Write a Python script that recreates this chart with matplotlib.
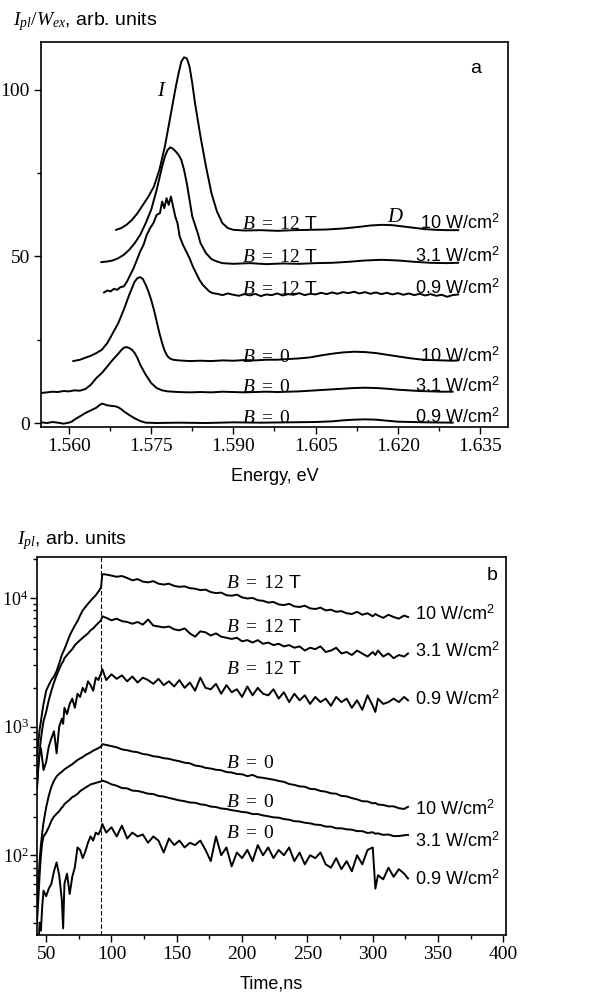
import matplotlib

matplotlib.use("Agg")
import matplotlib.pyplot as plt
import numpy as np
from matplotlib.ticker import FormatStrFormatter, LogLocator, MultipleLocator, NullFormatter

FIG_W, FIG_H = 590, 1001

plt.rcParams["font.family"] = ["Liberation Sans", "DejaVu Sans"]
plt.rcParams["mathtext.fontset"] = "custom"
plt.rcParams["mathtext.rm"] = "Liberation Serif"
plt.rcParams["mathtext.it"] = "Liberation Serif:italic"
plt.rcParams["mathtext.sf"] = "Liberation Sans"

# ---- panel a: PL spectra, I_pl / W_ex vs energy ----
energy_12t_10 = [1.5686, 1.5695, 1.5705, 1.5715, 1.5725, 1.5735, 1.5745, 1.5755, 1.5765, 1.5775,
                 1.5785, 1.5795, 1.5800, 1.5805, 1.5810, 1.5815, 1.5820, 1.5825, 1.5830, 1.5840,
                 1.5850, 1.5860, 1.5870, 1.5880, 1.5890, 1.5900, 1.5920, 1.5950, 1.5980, 1.6010,
                 1.6040, 1.6070, 1.6100, 1.6130, 1.6150, 1.6170, 1.6190, 1.6210, 1.6230, 1.6250,
                 1.6270, 1.6290, 1.6310]
pl_12t_10 = [58, 58.5, 59.5, 61, 63, 65.5, 68, 71, 76, 83,
             92, 101, 105, 108.5, 109.8, 109.5, 107, 102, 96, 86,
             77, 69, 63.5, 60, 58.5, 58, 57.8, 57.9, 57.7, 57.9,
             58.0, 58.1, 58.4, 58.9, 59.3, 59.5, 59.4, 59.0, 58.6, 58.2,
             58.0, 57.9, 57.9]

energy_12t_31 = [1.5659, 1.5670, 1.5680, 1.5690, 1.5700, 1.5710, 1.5720, 1.5730, 1.5740, 1.5750,
                 1.5760, 1.5770, 1.5775, 1.5780, 1.5785, 1.5790, 1.5795, 1.5800, 1.5805, 1.5810,
                 1.5815, 1.5820, 1.5825, 1.5830, 1.5835, 1.5840, 1.5850, 1.5860, 1.5870, 1.5880,
                 1.5900, 1.5930, 1.5960, 1.5990, 1.6020, 1.6050, 1.6080, 1.6110, 1.6140, 1.6170,
                 1.6200, 1.6230, 1.6260, 1.6290, 1.6310]
pl_12t_31 = [48.3, 48.5, 48.8, 49.5, 50.5, 52, 54, 56.5, 60, 64,
             70, 77, 80, 82, 82.8, 82.3, 81.5, 80.5, 79, 76,
             72, 67, 62, 59.5, 57, 54, 51, 49.2, 48.5, 48.0,
             47.8, 48.0, 47.7, 47.9, 47.8, 48.0, 48.1, 48.4, 48.8, 49.0,
             48.8, 48.4, 48.1, 48.0, 48.1]

energy_12t_09 = [1.5664, 1.5670, 1.5676, 1.5682, 1.5688, 1.5694, 1.5700, 1.5706, 1.5712, 1.5718,
                 1.5724, 1.5730, 1.5736, 1.5742, 1.5748, 1.5754, 1.5760, 1.5766, 1.5770, 1.5774,
                 1.5778, 1.5782, 1.5786, 1.5790, 1.5794, 1.5798, 1.5802, 1.5808, 1.5814, 1.5820,
                 1.5826, 1.5832, 1.5838, 1.5844, 1.5850, 1.5856, 1.5862, 1.5870, 1.5880, 1.5890,
                 1.5900, 1.5910, 1.5920, 1.5930, 1.5940, 1.5950, 1.5960, 1.5970, 1.5980, 1.5990,
                 1.6000, 1.6010, 1.6020, 1.6030, 1.6040, 1.6050, 1.6060, 1.6070, 1.6080, 1.6090,
                 1.6100, 1.6110, 1.6120, 1.6130, 1.6140, 1.6150, 1.6160, 1.6170, 1.6180, 1.6190,
                 1.6200, 1.6210, 1.6220, 1.6230, 1.6240, 1.6250, 1.6260, 1.6270, 1.6280, 1.6290,
                 1.6300, 1.6310]
pl_12t_09 = [39.2, 39.8, 39.5, 40.3, 40.0, 40.8, 41.0, 42.5, 44.5, 46.5,
             49.0, 51.5, 53.5, 56.5, 58.5, 60.0, 62.5, 63.0, 66.5, 64.5,
             67.5, 65.5, 68.0, 65.0, 62.0, 60.0, 56.0, 53.5, 51.5, 49.5,
             47.0, 45.0, 43.0, 41.5, 40.5, 39.5, 39.0, 38.8, 38.4, 38.9,
             38.5, 38.2, 38.7, 38.3, 38.8, 38.1, 38.6, 38.4, 38.9, 38.3,
             38.7, 38.5, 39.0, 38.4, 38.8, 38.6, 39.1, 38.7, 39.2, 38.8,
             39.3, 39.0, 39.4, 38.9, 39.3, 38.8, 39.2, 38.7, 39.1, 38.6,
             39.0, 38.5, 38.9, 38.4, 38.8, 38.3, 38.7, 38.2, 38.5, 37.9,
             38.4, 38.6]

energy_0_10 = [1.5608, 1.5620, 1.5630, 1.5640, 1.5650, 1.5660, 1.5670, 1.5680, 1.5690, 1.5700,
               1.5710, 1.5715, 1.5720, 1.5725, 1.5730, 1.5735, 1.5740, 1.5745, 1.5750, 1.5755,
               1.5760, 1.5765, 1.5770, 1.5775, 1.5780, 1.5785, 1.5790, 1.5800, 1.5820, 1.5840,
               1.5860, 1.5880, 1.5900, 1.5920, 1.5940, 1.5960, 1.5980, 1.6000, 1.6020, 1.6040,
               1.6060, 1.6080, 1.6100, 1.6120, 1.6140, 1.6160, 1.6180, 1.6200, 1.6220, 1.6240,
               1.6260, 1.6280, 1.6300, 1.6310]
pl_0_10 = [18.6, 19.0, 19.6, 20.2, 21.0, 22.0, 24.0, 27.0, 30.0, 34.0,
           38.5, 40.5, 42.5, 43.5, 43.8, 43.2, 41.5, 39.5, 37.0, 34.0,
           30.5, 27.0, 24.0, 21.5, 20.0, 19.3, 19.0, 18.8, 18.6, 18.7,
           18.6, 18.8, 18.7, 18.9, 18.8, 19.0, 19.0, 19.2, 19.4, 19.7,
           20.3, 20.8, 21.2, 21.4, 21.3, 21.0, 20.5, 20.0, 19.5, 19.1,
           18.9, 18.8, 18.7, 18.8]

energy_0_31 = [1.5549, 1.5560, 1.5570, 1.5580, 1.5590, 1.5600, 1.5610, 1.5620, 1.5630, 1.5640,
               1.5650, 1.5660, 1.5670, 1.5680, 1.5690, 1.5695, 1.5700, 1.5705, 1.5710, 1.5715,
               1.5720, 1.5725, 1.5730, 1.5740, 1.5750, 1.5760, 1.5770, 1.5780, 1.5800, 1.5820,
               1.5840, 1.5860, 1.5880, 1.5900, 1.5920, 1.5940, 1.5960, 1.5980, 1.6000, 1.6020,
               1.6040, 1.6060, 1.6080, 1.6100, 1.6120, 1.6140, 1.6160, 1.6180, 1.6200, 1.6220,
               1.6240, 1.6260, 1.6280, 1.6300]
pl_0_31 = [9.0, 9.2, 9.4, 9.3, 9.6, 9.5, 9.8, 9.7, 10.2, 11.5,
           13.5, 15.0, 17.0, 19.0, 20.8, 21.8, 22.6, 22.8, 22.5, 22.0,
           21.0, 19.5, 17.5, 14.5, 12.0, 10.5, 9.8, 9.5, 9.3, 9.2,
           9.3, 9.2, 9.4, 9.3, 9.2, 9.3, 9.4, 9.3, 9.4, 9.5,
           9.7, 9.9, 10.1, 10.3, 10.5, 10.6, 10.5, 10.3, 10.0, 9.8,
           9.6, 9.5, 9.4, 9.4]

energy_0_09 = [1.5549, 1.5560, 1.5570, 1.5580, 1.5590, 1.5600, 1.5605, 1.5610, 1.5620, 1.5630,
               1.5640, 1.5650, 1.5655, 1.5660, 1.5665, 1.5670, 1.5675, 1.5680, 1.5685, 1.5690,
               1.5695, 1.5700, 1.5710, 1.5720, 1.5730, 1.5740, 1.5760, 1.5800, 1.5850, 1.5900,
               1.5950, 1.6000, 1.6050, 1.6080, 1.6100, 1.6120, 1.6140, 1.6160, 1.6180, 1.6200,
               1.6250, 1.6300]
pl_0_09 = [0.2, 0.0, 0.3, 0.1, -0.2, 0.1, 0.4, 1.0, 2.0, 3.0,
           3.8, 4.6, 5.3, 5.8, 5.6, 5.3, 5.2, 5.1, 5.0, 4.7,
           4.2, 3.5, 2.4, 1.4, 0.6, 0.1, 0.0, 0.1, 0.0, 0.2,
           0.1, 0.2, 0.3, 0.5, 0.8, 1.0, 1.1, 1.0, 0.7, 0.4,
           0.2, 0.1]

energy_ticks = [1.560, 1.575, 1.590, 1.605, 1.620, 1.635]

# ---- panel b: PL kinetics, I_pl vs time (log scale) ----
time_ns = [43, 44, 45, 46, 47, 48, 50, 52, 54, 56, 58, 60, 62, 63, 64,
           66, 68, 70, 72, 74, 76, 78, 80, 82, 84, 86, 88, 90, 92, 93,
           96, 100, 104, 108, 112, 116, 120, 124, 128, 132,
           136, 140, 144, 148, 152, 156, 160, 164, 168, 172,
           176, 180, 184, 188, 192, 196, 200, 204, 208, 212,
           216, 220, 224, 228, 232, 236, 240, 244, 248, 252,
           256, 260, 264, 268, 272, 276, 280, 284, 288, 292,
           296, 300, 302, 304, 308, 312, 316, 320, 324, 327]

kin_12t_10 = [600, 750, 950, 1100, 1300, 1500, 1900, 2100, 2300, 2450, 2700, 3100, 3600, 3800, 4000,
              4500, 5100, 5600, 6100, 6600, 7300, 8000, 8500, 9000, 9500, 10000, 10500, 11200, 12000, 15300,
              15200, 14900, 14600, 14800, 14300, 13700, 14000, 13400, 13200, 13500,
              12900, 12700, 12900, 12400, 12200, 12300, 11900, 11800, 11500, 11600,
              11100, 10900, 11000, 10500, 10400, 10600, 10100, 9900, 10000, 9600,
              9500, 9200, 9300, 8900, 8800, 9000, 8600, 8500, 8700, 8300,
              8200, 8400, 8000, 8100, 7800, 7900, 7600, 7500, 7800, 7400,
              7600, 7200, 7500, 7300, 7000, 7400, 7100, 6900, 7300, 7100]

kin_12t_31 = [350, 500, 650, 800, 950, 1100, 1300, 1600, 1900, 2200, 2500, 2800, 3100, 3200, 3400,
              3600, 3800, 4000, 4300, 4500, 4700, 4900, 5100, 5300, 5600, 5800, 6100, 6400, 6700, 7200,
              7000, 6700, 6900, 6600, 6500, 6300, 6500, 6200, 6800, 6100,
              6000, 5900, 6000, 5700, 5600, 5800, 5300, 5000, 5500, 5400,
              5100, 5300, 5000, 4900, 4800, 4900, 4600, 4700, 4500, 4700,
              4400, 4500, 4300, 4400, 4200, 4300, 4100, 4200, 3900, 4100,
              4000, 4200, 3800, 3900, 4100, 3700, 3800, 3600, 3900, 3700,
              3500, 3800, 3600, 3900, 3500, 3700, 3400, 3600, 3500, 3700]

kin_12t_09 = [330, 480, 620, 680, 560, 460, 530, 700, 810, 920, 620, 1000, 1150, 1050, 1400,
              1250, 1500, 1650, 1400, 1800, 1700, 2000, 1850, 2250, 2100, 1900, 2400, 2300, 2600, 2800,
              2300, 2550, 2350, 2500, 2250, 2450, 2200, 2400, 2300, 2150,
              2350, 2100, 2250, 2050, 2300, 2000, 2200, 1900, 2400, 2000,
              1950, 2150, 1800, 2100, 1850, 1950, 1700, 2050, 1750, 2000,
              1800, 1750, 1950, 1650, 1850, 1550, 1800, 1600, 1750, 1500,
              1700, 1550, 1650, 1450, 1700, 1550, 1650, 1400, 1600, 1350,
              1750, 1450, 1300, 1650, 1500, 1550, 1650, 1550, 1700, 1600]

kin_0_10 = [40, 60, 90, 120, 150, 180, 235, 290, 340, 380, 410, 430, 445, 455, 465,
            480, 495, 510, 530, 550, 565, 580, 600, 615, 630, 650, 665, 680, 700, 730,
            720, 705, 690, 665, 655, 640, 632, 612, 605, 588,
            582, 568, 562, 548, 538, 524, 518, 498, 492, 478,
            472, 462, 458, 443, 440, 428, 426, 412, 421, 404,
            400, 393, 387, 378, 372, 358, 352, 343, 341, 328,
            326, 316, 312, 303, 301, 289, 287, 278, 272, 263,
            262, 253, 255, 248, 246, 240, 240, 232, 229, 238]

kin_0_31 = [30, 45, 70, 100, 125, 140, 150, 165, 185, 200, 210, 220, 235, 240, 250,
            260, 270, 283, 290, 300, 315, 325, 335, 345, 355, 360, 365, 370, 375, 380,
            372, 356, 347, 333, 331, 318, 316, 309, 301, 299,
            289, 286, 279, 273, 267, 263, 257, 256, 249, 246,
            239, 237, 231, 229, 224, 221, 217, 215, 209, 209,
            204, 201, 197, 196, 191, 189, 184, 183, 179, 177,
            173, 172, 167, 167, 162, 162, 159, 158, 154, 154,
            149, 151, 147, 148, 144, 145, 141, 141, 143, 144]

kin_0_09 = [22, 18, 30, 26, 40, 53, 48, 55, 60, 75, 88, 70, 45, 27, 60,
            72, 50, 68, 81, 115, 110, 95, 107, 125, 140, 130, 150, 145, 160, 175,
            150, 165, 140, 170, 135, 150, 140, 145, 125, 140,
            130, 105, 135, 120, 130, 115, 125, 120, 130, 110,
            90, 140, 100, 115, 82, 105, 95, 110, 90, 120,
            100, 115, 95, 110, 100, 115, 90, 105, 85, 100,
            95, 105, 85, 80, 95, 78, 90, 75, 100, 85,
            110, 115, 55, 70, 65, 80, 68, 78, 72, 66]

PEAK_TIME = 92

B12 = r"$B\ =\ 12$ T"
B0 = r"$B\ =\ 0$"
W10 = r"10 W/cm$^{\mathsf{2}}$"
W31 = r"3.1 W/cm$^{\mathsf{2}}$"
W09 = r"0.9 W/cm$^{\mathsf{2}}$"

LINE = dict(color="black", lw=1.4)


def fig_text(fig, x, y, s, ha="left", size=13, **kw):
    # positions given in pixels of the 590x1001 picture, y from top, baseline aligned
    fig.text(x / FIG_W, 1 - y / FIG_H, s, ha=ha, va="baseline", fontsize=size, **kw)


def style_axes(ax):
    for sp in ax.spines.values():
        sp.set_linewidth(1.2)
    ax.tick_params(which="both", direction="out", labelsize=14,
                   labelfontfamily="Liberation Serif", width=1.0, pad=3)
    ax.tick_params(which="major", length=5)
    ax.tick_params(which="minor", length=3)


fig = plt.figure(figsize=(FIG_W / 100, FIG_H / 100), dpi=100)

# panel a
ax_a = fig.add_axes([41 / FIG_W, 1 - 427 / FIG_H, 467 / FIG_W, 385 / FIG_H])
for e, v in [(energy_12t_10, pl_12t_10), (energy_12t_31, pl_12t_31), (energy_12t_09, pl_12t_09),
             (energy_0_10, pl_0_10), (energy_0_31, pl_0_31), (energy_0_09, pl_0_09)]:
    ax_a.plot(e, v, **LINE)
ax_a.set_xlim(1.5549, 1.6401)
ax_a.set_ylim(-1.2, 114.4)
ax_a.set_xticks(energy_ticks)
ax_a.xaxis.set_major_formatter(FormatStrFormatter("%.3f"))
ax_a.xaxis.set_minor_locator(MultipleLocator(0.0075))
ax_a.yaxis.set_major_locator(MultipleLocator(50))
ax_a.yaxis.set_minor_locator(MultipleLocator(25))
style_axes(ax_a)
ax_a.set_xlabel("Energy, eV", fontsize=13, labelpad=9)

fig_text(fig, 13, 25, r"$I_{pl}/W_{ex}$, arb. units", size=14)
fig_text(fig, 470, 73, "a", size=14)
fig_text(fig, 157, 96, r"$I$", size=15)
fig_text(fig, 387, 222, r"$D$", size=15)
for y, b, w in [(229, B12, W10), (262, B12, W31), (294, B12, W09),
                (362, B0, W10), (392, B0, W31), (423, B0, W09)]:
    fig_text(fig, 242, y, b, size=14)
    fig_text(fig, 500, y, w, ha="right")

# panel b
ax_b = fig.add_axes([37 / FIG_W, 1 - 935 / FIG_H, 469 / FIG_W, 378 / FIG_H])
for v in [kin_12t_10, kin_12t_31, kin_12t_09, kin_0_10, kin_0_31, kin_0_09]:
    ax_b.plot(time_ns, v, **LINE)
ax_b.set_yscale("log")
ax_b.set_xlim(43, 402)
ax_b.set_ylim(24, 20800)
ax_b.axvline(PEAK_TIME, color="black", lw=0.8, ls=(0, (4, 2)))
ax_b.xaxis.set_major_locator(MultipleLocator(50))
ax_b.xaxis.set_minor_locator(MultipleLocator(25))
ax_b.yaxis.set_major_locator(LogLocator(base=10))
ax_b.yaxis.set_minor_locator(LogLocator(base=10, subs=np.arange(2, 10)))
ax_b.yaxis.set_minor_formatter(NullFormatter())
style_axes(ax_b)
ax_b.tick_params(axis="y", which="both", labelsize=13, pad=1)
ax_b.set_xlabel("Time,ns", fontsize=13, labelpad=9)

fig_text(fig, 17, 544, r"$I_{pl}$, arb. units", size=14)
fig_text(fig, 487, 580, "b", size=14)
for y, s in [(588, B12), (632, B12), (674, B12), (768, B0), (807, B0), (838, B0)]:
    fig_text(fig, 226, y, s, size=14)
for y, s in [(620, W10), (657, W31), (705, W09), (815, W10), (847, W31), (885, W09)]:
    fig_text(fig, 415, y, s)

fig.savefig("out.png", dpi=100)
